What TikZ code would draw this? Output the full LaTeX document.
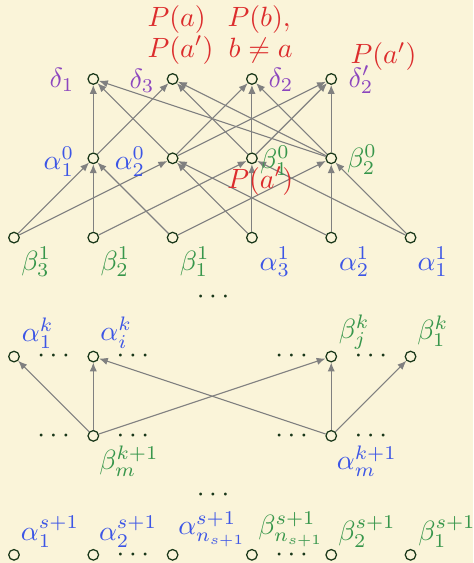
\documentclass[tikz,border=0pt]{standalone}
\usetikzlibrary{arrows.meta}
\definecolor{bgcol}{RGB}{250,244,217}
\definecolor{nodecol}{RGB}{25,55,25}
\definecolor{ablue}{RGB}{60,85,230}
\definecolor{bgreen}{RGB}{55,150,75}
\definecolor{dpurple}{RGB}{140,70,190}
\definecolor{pred}{RGB}{220,45,45}
\begin{document}
\begin{tikzpicture}[
  vtx/.style={circle,draw=nodecol,fill=bgcol,line width=0.45pt,inner sep=0pt,minimum size=3.8pt},
  edge/.style={draw=gray,line width=0.4pt,-{Latex[length=3.2pt,width=2.6pt]}},
  alab/.style={text=ablue,inner sep=0pt},
  blab/.style={text=bgreen,inner sep=0pt},
  dlab/.style={text=dpurple,inner sep=0pt},
  plab/.style={text=pred,inner sep=0pt,anchor=base west},
  dotlab/.style={text=nodecol,inner sep=0pt}
]
\fill[bgcol] (-0.1765,0.996) rectangle (5.7885,-6.103);
\useasboundingbox (-0.1765,0.996) rectangle (5.7885,-6.103);

% top layer
\node[vtx] (d1) at (1,0) {};
\node[vtx] (d3) at (2,0) {};
\node[vtx] (d2) at (3,0) {};
\node[vtx] (d2p) at (4,0) {};
% layer 0
\node[vtx] (a10) at (1,-1) {};
\node[vtx] (a20) at (2,-1) {};
\node[vtx] (b10) at (3,-1) {};
\node[vtx] (b20) at (4,-1) {};
% layer 1
\node[vtx] (b31) at (0,-2) {};
\node[vtx] (b21) at (1,-2) {};
\node[vtx] (b11) at (2,-2) {};
\node[vtx] (a31) at (3,-2) {};
\node[vtx] (a21) at (4,-2) {};
\node[vtx] (a11) at (5,-2) {};
% layer k
\node[vtx] (a1k) at (0,-3.5) {};
\node[vtx] (aik) at (1,-3.5) {};
\node[vtx] (bjk) at (4,-3.5) {};
\node[vtx] (b1k) at (5,-3.5) {};
% layer k+1
\node[vtx] (bm) at (1,-4.5) {};
\node[vtx] (am) at (4,-4.5) {};
% layer s+1
\node[vtx] (s0) at (0,-6) {};
\node[vtx] (s1) at (1,-6) {};
\node[vtx] (s2) at (2,-6) {};
\node[vtx] (s3) at (3,-6) {};
\node[vtx] (s4) at (4,-6) {};
\node[vtx] (s5) at (5,-6) {};

% edges layer 0 -> top
\draw[edge] (a10) -- (d1);
\draw[edge] (a10) -- (d3);
\draw[edge] (a20) -- (d1);
\draw[edge] (a20) -- (d2);
\draw[edge] (a20) -- (d2p);
\draw[edge] (b10) -- (d3);
\draw[edge] (b10) -- (d2);
\draw[edge] (b10) -- (d2p);
\draw[edge] (b20) -- (d1);
\draw[edge] (b20) -- (d3);
\draw[edge] (b20) -- (d2);
\draw[edge] (b20) -- (d2p);
% edges layer 1 -> layer 0
\draw[edge] (b31) -- (a10);
\draw[edge] (b31) -- (a20);
\draw[edge] (b21) -- (a10);
\draw[edge] (b21) -- (b10);
\draw[edge] (b11) -- (a10);
\draw[edge] (b11) -- (b20);
\draw[edge] (a31) -- (a20);
\draw[edge] (a31) -- (b10);
\draw[edge] (a21) -- (a20);
\draw[edge] (a21) -- (b20);
\draw[edge] (a11) -- (b10);
\draw[edge] (a11) -- (b20);
% edges layer k+1 -> k
\draw[edge] (bm) -- (a1k);
\draw[edge] (bm) -- (aik);
\draw[edge] (bm) -- (bjk);
\draw[edge] (am) -- (aik);
\draw[edge] (am) -- (bjk);
\draw[edge] (am) -- (b1k);

% top annotations
\node[plab] (pa) at (1.677,0.656) {$P(a)$};
\node[plab] (pap) at (1.677,0.277) {$P(a')$};
\node[plab] (pb) at (2.686,0.656) {$P(b),$};
\node[plab] (bna) at (2.70,0.277) {$b\neq a$};
\node[plab] (pap2) at (4.237,0.20) {$P(a')$};
\node[plab] (pap3) at (2.682,-1.375) {$P(a')$};

% delta labels
\node[dlab] (ld1) at (0.605,-0.013) {$\delta_1$};
\node[dlab] (ld3) at (1.614,-0.025) {$\delta_3$};
\node[dlab] (ld2) at (3.367,-0.013) {$\delta_2$};
\node[dlab] (ld2p) at (4.376,-0.013) {$\delta_2'$};
% layer 0 labels
\node[alab] (la10) at (0.567,-1.047) {$\alpha_1^0$};
\node[alab] (la20) at (1.463,-1.047) {$\alpha_2^0$};
\node[blab] (lb10) at (3.291,-1.034) {$\beta_1^0$};
\node[blab] (lb20) at (4.388,-1.021) {$\beta_2^0$};
% layer 1 labels
\node[blab] (lb31) at (0.28,-2.31) {$\beta_3^1$};
\node[blab] (lb21) at (1.28,-2.31) {$\beta_2^1$};
\node[blab] (lb11) at (2.28,-2.31) {$\beta_1^1$};
\node[alab] (la31) at (3.29,-2.31) {$\alpha_3^1$};
\node[alab] (la21) at (4.29,-2.31) {$\alpha_2^1$};
\node[alab] (la11) at (5.28,-2.31) {$\alpha_1^1$};
\node[dotlab] (dm1) at (2.51,-2.75) {$\cdots$};
% layer k labels
\node[alab] (la1k) at (0.30,-3.20) {$\alpha_1^k$};
\node[alab] (laik) at (1.29,-3.20) {$\alpha_i^k$};
\node[blab] (lbjk) at (4.29,-3.19) {$\beta_j^k$};
\node[blab] (lb1k) at (5.28,-3.18) {$\beta_1^k$};
\node[dotlab] (dk1) at (0.5,-3.5) {$\cdots$};
\node[dotlab] (dk2) at (1.5,-3.5) {$\cdots$};
\node[dotlab] (dk3) at (3.5,-3.5) {$\cdots$};
\node[dotlab] (dk4) at (4.5,-3.5) {$\cdots$};
% layer k+1 labels
\node[dotlab] (dl1) at (0.5,-4.5) {$\cdots$};
\node[dotlab] (dl2) at (1.5,-4.5) {$\cdots$};
\node[dotlab] (dl3) at (3.5,-4.5) {$\cdots$};
\node[dotlab] (dl4) at (4.5,-4.5) {$\cdots$};
\node[blab] (lbm) at (1.45,-4.817) {$\beta_m^{k+1}$};
\node[alab] (lam) at (4.45,-4.817) {$\alpha_m^{k+1}$};
\node[dotlab] (dm2) at (2.51,-5.245) {$\cdots$};
% layer s+1 labels
\node[alab] (ls0) at (0.454,-5.712) {$\alpha_1^{s+1}$};
\node[alab] (ls1) at (1.438,-5.712) {$\alpha_2^{s+1}$};
\node[alab] (ls2) at (2.497,-5.675) {$\alpha_{n_{s+1}}^{s+1}$};
\node[blab] (ls3) at (3.493,-5.675) {$\beta_{n_{s+1}}^{s+1}$};
\node[blab] (ls4) at (4.451,-5.712) {$\beta_2^{s+1}$};
\node[blab] (ls5) at (5.46,-5.712) {$\beta_1^{s+1}$};
\node[dotlab] (db1) at (1.5,-6) {$\cdots$};
\node[dotlab] (db2) at (3.5,-6) {$\cdots$};
\end{tikzpicture}
\end{document}
